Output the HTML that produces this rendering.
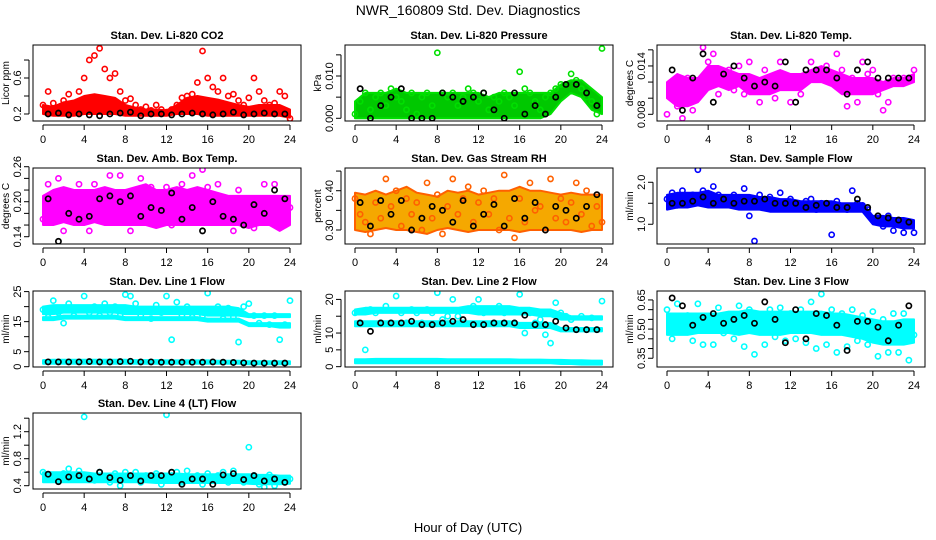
<!DOCTYPE html>
<html><head><meta charset="utf-8"><style>
html,body{margin:0;padding:0;background:#fff;}
svg{display:block;font-family:"Liberation Sans",sans-serif;}
</style></head><body>
<svg id="chart" width="936" height="540" viewBox="0 0 936 540" xmlns="http://www.w3.org/2000/svg">
<rect x="0" y="0" width="936" height="540" fill="#fff"/>
<text x="468" y="15" text-anchor="middle" font-size="14">NWR_160809  Std. Dev. Diagnostics</text>
<text x="468" y="532" text-anchor="middle" font-size="13">Hour of Day (UTC)</text>
</svg>
<script>
// ---- Data arrays (hourly band limits 0..24, half-hourly scatter 0..24, black points at 0.5..23.5) ----
const hours = [0,1,2,3,4,5,6,7,8,9,10,11,12,13,14,15,16,17,18,19,20,21,22,23,24];
const xTicks = [0,4,8,12,16,20,24];

const co2Lo = [0.2,0.18,0.18,0.18,0.2,0.2,0.2,0.2,0.18,0.18,0.18,0.18,0.18,0.2,0.2,0.2,0.18,0.18,0.18,0.18,0.18,0.18,0.18,0.18,0.16];
const co2Hi = [0.3,0.28,0.33,0.35,0.4,0.42,0.4,0.38,0.3,0.27,0.25,0.25,0.24,0.3,0.38,0.4,0.38,0.36,0.33,0.3,0.28,0.3,0.3,0.3,0.25];
const co2Pts = [0.3,0.45,0.32,0.25,0.35,0.42,0.3,0.45,0.6,0.8,0.85,0.93,0.7,0.6,0.65,0.45,0.35,0.37,0.3,0.25,0.28,0.24,0.3,0.25,0.22,0.25,0.3,0.38,0.4,0.42,0.55,0.9,0.6,0.5,0.45,0.6,0.4,0.42,0.35,0.3,0.38,0.6,0.45,0.35,0.3,0.32,0.45,0.4,0.15];
const co2Blk = [0.2,0.21,0.19,0.2,0.19,0.18,0.2,0.21,0.22,0.18,0.2,0.2,0.19,0.2,0.21,0.2,0.19,0.2,0.22,0.19,0.2,0.21,0.2,0.2];

const presLo = [0,0,0,0,0,0,0,0,0,0,0,0,0,0,0,0,0,0,0,0.001,0.004,0.006,0.005,0.002,0.001];
const presHi = [0.004,0.006,0.006,0.006,0.007,0.006,0.006,0.006,0.006,0.006,0.006,0.006,0.006,0.005,0.006,0.006,0.006,0.006,0.006,0.006,0.008,0.009,0.009,0.007,0.005];
const presPts = [0.001,0.004,0.006,0.002,0.005,0.006,0.003,0.007,0.005,0.004,0.002,0.006,0.001,0.005,0.006,0.003,0.0155,0.006,0.005,0.006,0.003,0.005,0.007,0.006,0.004,0.006,0.002,0.005,0.004,0.006,0.005,0.003,0.011,0.007,0.006,0.004,0.002,0.005,0.006,0.007,0.008,0.008,0.0105,0.009,0.007,0.005,0.004,0.001,0.0165];
const presBlk = [0.007,0,0.003,0.005,0.007,0,0,0,0.006,0.005,0.004,0.005,0.006,0.002,0,0.006,0.001,0.003,0.001,0.005,0.008,0.008,0.006,0.003];

const tempLo = [0.010,0.009,0.009,0.0095,0.011,0.0115,0.011,0.0115,0.0105,0.0105,0.0105,0.011,0.011,0.011,0.012,0.012,0.0115,0.0105,0.0105,0.0105,0.0105,0.011,0.0115,0.0115,0.012];
const tempHi = [0.012,0.013,0.0125,0.0125,0.014,0.014,0.0135,0.013,0.013,0.0125,0.013,0.0135,0.013,0.013,0.0135,0.014,0.0135,0.013,0.0125,0.0125,0.0125,0.012,0.0125,0.0125,0.013];
const tempPts = [0.008,0.0105,0.009,0.0075,0.0125,0.0085,0.011,0.0163,0.0145,0.0155,0.0105,0.013,0.0135,0.011,0.014,0.0105,0.0145,0.0115,0.0095,0.0135,0.012,0.010,0.0145,0.0125,0.0095,0.0115,0.0105,0.0125,0.0145,0.013,0.0125,0.014,0.0125,0.0155,0.0135,0.009,0.0125,0.0095,0.0145,0.013,0.0135,0.0105,0.0085,0.0095,0.0125,0.012,0.0125,0.0125,0.0135];
const tempBlk = [0.0135,0.0085,0.0125,0.0155,0.0095,0.013,0.014,0.0125,0.0115,0.012,0.0115,0.0145,0.0095,0.0135,0.0135,0.0135,0.0125,0.0105,0.0135,0.0145,0.0125,0.0125,0.0125,0.0125];

const ambLo = [0.16,0.16,0.165,0.16,0.16,0.165,0.16,0.16,0.16,0.16,0.16,0.155,0.16,0.16,0.16,0.16,0.16,0.16,0.16,0.16,0.155,0.16,0.16,0.15,0.16];
const ambHi = [0.21,0.22,0.225,0.22,0.22,0.22,0.225,0.22,0.22,0.225,0.23,0.22,0.22,0.225,0.22,0.225,0.22,0.215,0.21,0.21,0.21,0.21,0.21,0.21,0.21];
const ambPts = [0.17,0.23,0.2,0.24,0.15,0.21,0.18,0.23,0.2,0.15,0.23,0.17,0.19,0.245,0.21,0.245,0.2,0.15,0.22,0.24,0.18,0.225,0.2,0.17,0.225,0.16,0.21,0.23,0.18,0.245,0.2,0.255,0.225,0.19,0.23,0.17,0.2,0.15,0.22,0.17,0.2,0.155,0.195,0.23,0.17,0.23,0.155,0.16,0.19];
const ambBlk = [0.205,0.132,0.18,0.17,0.175,0.205,0.21,0.2,0.21,0.175,0.19,0.185,0.215,0.17,0.19,0.15,0.2,0.175,0.17,0.16,0.195,0.18,0.22,0.205];

const rhLo = [0.3,0.295,0.3,0.305,0.3,0.3,0.295,0.29,0.3,0.305,0.3,0.295,0.3,0.3,0.3,0.3,0.295,0.3,0.3,0.3,0.3,0.3,0.295,0.3,0.3];
const rhHi = [0.395,0.39,0.4,0.39,0.4,0.41,0.395,0.39,0.385,0.4,0.395,0.4,0.39,0.395,0.4,0.4,0.41,0.4,0.4,0.395,0.39,0.395,0.39,0.39,0.39];
const rhPts = [0.38,0.34,0.32,0.29,0.37,0.33,0.43,0.36,0.4,0.31,0.38,0.34,0.37,0.3,0.42,0.33,0.39,0.29,0.36,0.43,0.34,0.38,0.41,0.32,0.37,0.4,0.34,0.38,0.3,0.44,0.33,0.28,0.38,0.32,0.42,0.35,0.36,0.3,0.43,0.33,0.38,0.32,0.37,0.42,0.34,0.4,0.31,0.36,0.32];
const rhBlk = [0.37,0.31,0.375,0.34,0.375,0.3,0.33,0.36,0.35,0.32,0.375,0.31,0.34,0.365,0.31,0.38,0.33,0.37,0.3,0.36,0.35,0.33,0.36,0.39];

const sfLo = [1.35,1.4,1.4,1.45,1.4,1.4,1.4,1.35,1.35,1.35,1.3,1.3,1.3,1.3,1.3,1.3,1.3,1.3,1.3,1.3,1.0,0.95,0.95,0.9,0.9];
const sfHi = [1.7,1.75,1.75,1.75,1.8,1.7,1.7,1.7,1.7,1.65,1.65,1.6,1.6,1.55,1.55,1.55,1.55,1.5,1.5,1.5,1.2,1.2,1.15,1.15,1.1];
const sfPts = [1.6,1.75,1.45,1.8,1.65,1.7,2.3,1.8,1.55,1.9,1.7,1.5,1.6,1.7,1.55,1.85,1.2,0.6,1.7,1.55,1.65,1.45,1.75,1.5,1.6,1.45,1.4,1.55,1.6,1.35,1.5,1.45,0.75,1.55,1.4,1.35,1.8,1.5,1.45,1.35,1.1,1.15,0.95,1.2,0.85,1.1,0.8,1.0,0.8];
const sfBlk = [1.5,1.5,1.55,1.65,1.5,1.6,1.5,1.55,1.55,1.6,1.5,1.5,1.5,1.4,1.45,1.5,1.4,1.4,1.6,1.4,1.2,1.15,1.1,1.05];

const l1Lo = [17.5,17.5,18,18,18,18,18,18,17.5,17.5,17.5,17.5,17.5,17.5,17.5,17.5,17,17,17,17,16.5,16.5,16.5,16.5,16.5];
const l1Hi = [20,20.5,20.5,20.5,20.5,20.5,20.5,20.5,20.5,20,20,20,20,20,20,20,20,20,20,19.5,17.5,17.5,17.5,17.5,17.5];
const l1LowLo = [15.5,15.5,16,16,16,16,16,16,15.5,15.5,15.5,15.5,15.5,15.5,15.5,15.5,15,15,15,15,13.5,13.5,13.5,13,13];
const l1LowHi = [16.5,16.5,17,17,17,17,17,17,16.5,16.5,16.5,16.5,16.5,16.5,16.5,16.5,16,16,16,16,14.5,14.5,14.5,14.5,14.5];
const l1BaseLo = [1,1,1,1,1,1,1,1,1,1,1,1,1,1,1,1,1,1,1,1,0.8,0.8,0.8,0.8,0.8];
const l1BaseHi = [2.2,2.3,2.3,2.3,2.3,2.3,2.3,2.3,2.3,2.2,2.2,2.2,2.1,2.1,2.1,2.1,2.1,2,2,2,1.8,1.8,1.8,1.8,1.8];
const l1Pts = [19,16.5,22,18,14.5,21,17,19,23.5,18,20,17,21,18,20,17,24,23.5,21,17,19,16,20.5,18,23.5,9,21.5,17,20,16.5,19,17,24.5,18,20,16,19.5,16.5,8.2,20,21,17,14.5,17,14,17,9,14,22];
const l1Blk = [1.6,1.6,1.6,1.6,1.7,1.6,1.6,1.7,1.8,1.6,1.6,1.5,1.5,1.5,1.5,1.5,1.6,1.5,1.4,1.3,1.2,1.2,1.2,1.2];

const l2Lo = [15.5,15.5,16,16,16,16,16,16,16,16,16,16,15.5,15.5,15.5,15.5,15.5,15.5,15,15,14,14,14,14,14];
const l2Hi = [17,17.5,17.5,17.5,17.5,17.5,17.5,17.5,17.5,17.5,17.5,18,18,18,18,18,17.5,17.5,17,17,16,15,15,15,15];
const l2MidLo = [12,12,12,12,12,12,12,12,12,12,12,12,12,12,12,12,11.5,11.5,11.5,11.5,10.5,10.5,10.5,10.5,10.5];
const l2MidHi = [13.5,13.5,13.5,13.5,13.5,13.5,13.5,13.5,13.5,13.5,13.5,13.5,13.5,13.5,13.5,13.5,13,13,13,13,11.5,11.5,11.5,11.5,11.5];
const l2BaseLo = [1,1,1,1,1,1,1,1,1,1,1,1,1,1,1,1,1,1,1,1,0.8,0.8,0.6,0.6,0.6];
const l2BaseHi = [2.2,2.2,2.3,2.3,2.3,2.3,2.3,2.3,2.3,2.2,2.2,2.2,2.2,2.2,2.2,2.2,2.1,2.1,2.1,2,2,1.9,1.9,1.8,1.8];
const l2Pts = [16,13,5,17,16,13,18,13,21,16,13,17,16,13,17,16,22,14,15,20,15,13,17,18,20,16,17,13,18,16,17,13,21.5,10,16,13,14,9.5,7,19,16,15,14,11,15,11,14.5,11,19.5];
const l2Blk = [13,10.5,13,13,13,13.5,12.5,12.5,13,13.5,14,12.5,12.5,13,13,13,15.3,12.5,12.5,13.5,11.5,11,11,11];

const l3Lo = [0.47,0.47,0.47,0.48,0.48,0.48,0.48,0.47,0.48,0.47,0.47,0.47,0.48,0.48,0.48,0.47,0.47,0.47,0.46,0.45,0.43,0.42,0.42,0.42,0.43];
const l3Hi = [0.58,0.58,0.58,0.58,0.58,0.58,0.59,0.59,0.6,0.59,0.59,0.59,0.59,0.59,0.59,0.59,0.58,0.58,0.57,0.56,0.55,0.54,0.54,0.55,0.55];
const l3Pts = [0.6,0.45,0.63,0.52,0.57,0.44,0.63,0.42,0.55,0.42,0.61,0.48,0.56,0.45,0.62,0.41,0.6,0.37,0.56,0.42,0.6,0.46,0.61,0.44,0.58,0.45,0.6,0.43,0.64,0.4,0.68,0.42,0.6,0.38,0.58,0.41,0.6,0.44,0.57,0.42,0.59,0.36,0.55,0.38,0.58,0.38,0.58,0.34,0.47];
const l3Blk = [0.66,0.62,0.52,0.56,0.58,0.53,0.55,0.57,0.53,0.64,0.55,0.43,0.6,0.45,0.58,0.57,0.52,0.39,0.54,0.54,0.51,0.44,0.52,0.62];

const l4Lo = [0.45,0.45,0.45,0.45,0.45,0.45,0.45,0.45,0.45,0.45,0.45,0.44,0.44,0.44,0.44,0.44,0.44,0.44,0.44,0.44,0.43,0.42,0.42,0.42,0.43];
const l4Hi = [0.6,0.6,0.6,0.6,0.6,0.58,0.58,0.58,0.58,0.58,0.58,0.58,0.58,0.58,0.57,0.57,0.57,0.57,0.57,0.57,0.57,0.56,0.56,0.55,0.55];
const l4Pts = [0.6,0.5,0.55,0.48,0.58,0.65,0.5,0.62,1.42,0.55,0.48,0.6,0.52,0.45,0.58,0.4,0.6,0.5,0.6,0.45,0.55,0.5,0.58,0.42,1.45,0.55,0.6,0.45,0.62,0.5,0.55,0.42,0.58,0.48,0.55,0.6,0.45,0.62,0.5,0.45,0.97,0.55,0.42,0.38,0.56,0.4,0.5,0.45,0.5];
const l4Blk = [0.57,0.46,0.53,0.55,0.5,0.6,0.52,0.48,0.55,0.47,0.55,0.55,0.6,0.42,0.5,0.5,0.42,0.56,0.58,0.49,0.55,0.47,0.5,0.45];

// ---- Panel config ----
const panels = [
 {name:'co2',title:'Stan. Dev. Li-820 CO2',ylab:'Licor ppm',col:0,row:0,dom:[0.122,0.967],ticks:[0.2,0.4,0.6,0.8],labels:['0.2','','0.6',''],color:'#ff0000',band:'#ff0000',bands:[[co2Lo,co2Hi]],pts:co2Pts,blk:co2Blk},
 {name:'pressure',title:'Stan. Dev. Li-820 Pressure',ylab:'kPa',col:1,row:0,dom:[-0.00064,0.01733],ticks:[0,0.005,0.01,0.015],labels:['0.000','','0.010',''],color:'#00e000',band:'#00c800',bands:[[presLo,presHi]],pts:presPts,blk:presBlk},
 {name:'li820-temp',title:'Stan. Dev. Li-820 Temp.',ylab:'degrees C',col:2,row:0,dom:[0.00717,0.0166],ticks:[0.008,0.010,0.012,0.014,0.016],labels:['0.008','','','0.014',''],color:'#ff00ff',band:'#ff00ff',bands:[[tempLo,tempHi]],pts:tempPts,blk:tempBlk},
 {name:'amb-box-temp',title:'Stan. Dev. Amb. Box Temp.',ylab:'degrees C',col:0,row:1,dom:[0.1275,0.2578],ticks:[0.14,0.16,0.18,0.2,0.22,0.24,0.26],labels:['0.14','','','0.20','','','0.26'],color:'#ff00ff',band:'#ff00ff',bands:[[ambLo,ambHi]],pts:ambPts,blk:ambBlk},
 {name:'gas-stream-rh',title:'Stan. Dev. Gas Stream RH',ylab:'percent',col:1,row:1,dom:[0.2644,0.4578],ticks:[0.3,0.35,0.4,0.45],labels:['0.30','','0.40',''],color:'#ff6000',band:'#f5a800',bands:[[rhLo,rhHi]],pts:rhPts,blk:rhBlk},
 {name:'sample-flow',title:'Stan. Dev. Sample Flow',ylab:'ml/min',col:2,row:1,dom:[0.53,2.34],ticks:[1.0,1.5,2.0],labels:['1.0','','2.0'],color:'#0000ff',band:'#0000ff',bands:[[sfLo,sfHi]],pts:sfPts,blk:sfBlk},
 {name:'line1-flow',title:'Stan. Dev. Line 1 Flow',ylab:'ml/min',col:0,row:2,dom:[-0.1,25.2],ticks:[0,5,10,15,20,25],labels:['0','5','','15','','25'],color:'#00ffff',band:'#00ffff',bands:[[l1Lo,l1Hi],[l1LowLo,l1LowHi],[l1BaseLo,l1BaseHi]],pts:l1Pts,blk:l1Blk},
 {name:'line2-flow',title:'Stan. Dev. Line 2 Flow',ylab:'ml/min',col:1,row:2,dom:[-0.1,22.5],ticks:[0,5,10,15,20],labels:['0','5','10','','20'],color:'#00ffff',band:'#00ffff',bands:[[l2Lo,l2Hi],[l2MidLo,l2MidHi],[l2BaseLo,l2BaseHi]],pts:l2Pts,blk:l2Blk},
 {name:'line3-flow',title:'Stan. Dev. Line 3 Flow',ylab:'ml/min',col:2,row:2,dom:[0.305,0.696],ticks:[0.35,0.4,0.45,0.5,0.55,0.6,0.65],labels:['0.35','','','0.50','','','0.65'],color:'#00ffff',band:'#00ffff',bands:[[l3Lo,l3Hi]],pts:l3Pts,blk:l3Blk},
 {name:'line4-flow',title:'Stan. Dev. Line 4 (LT) Flow',ylab:'ml/min',col:0,row:3,dom:[0.351,1.477],ticks:[0.4,0.6,0.8,1.0,1.2,1.4],labels:['0.4','','0.8','','1.2',''],color:'#00ffff',band:'#00ffff',bands:[[l4Lo,l4Hi]],pts:l4Pts,blk:l4Blk}
];

const NS = 'http://www.w3.org/2000/svg';
const svg = document.getElementById('chart');
const colLeft = [33,345,657], rowTop = [45,168,291,413], BW = 268, BH = 76;
function mk(tag, attrs, parent){const e=document.createElementNS(NS,tag);for(const k in attrs)e.setAttribute(k,attrs[k]);(parent||svg).appendChild(e);return e;}

panels.forEach(p=>{
  const L=colLeft[p.col], T=rowTop[p.row];
  const xS = h => L + 10 + h*(247/24);
  const yS = v => T + BH - (v - p.dom[0])/(p.dom[1]-p.dom[0])*BH;
  const g = mk('g',{});
  
  
  const cid='clip-'+p.name;
  const cp=mk('clipPath',{id:cid},g); mk('rect',{x:L,y:T,width:BW,height:BH},cp);
  const data=mk('g',{'clip-path':'url(#'+cid+')'},g);
  p.bands.forEach((b,bi)=>{
    let d='';
    hours.forEach((h,i)=>{d+=(i?'L':'M')+xS(h).toFixed(1)+','+yS(b[1][i]).toFixed(1);});
    for(let i=hours.length-1;i>=0;i--) d+='L'+xS(hours[i]).toFixed(1)+','+yS(b[0][i]).toFixed(1);
    d+='Z';
    const band=mk('path',{d:d,fill:p.band,stroke:p.color,'stroke-width':2,'stroke-linejoin':'round'},data);
    
    
  });
  p.pts.forEach((v,i)=>{
    const c=mk('circle',{cx:xS(i*0.5),cy:yS(v),r:2.6,fill:'none',stroke:p.color,'stroke-width':1.6},data);
    
    
  });
  p.blk.forEach((v,i)=>{
    const c=mk('circle',{cx:xS(i+0.5),cy:yS(v),r:2.6,fill:'none',stroke:'#000','stroke-width':1.7},data);
    
    
  });
  mk('rect',{x:L,y:T,width:BW,height:BH,fill:'none',stroke:'#000','stroke-width':1},g);
  const t=mk('text',{x:L+BW/2,y:T-6,'text-anchor':'middle','font-size':11,'font-weight':'bold'},g);
  t.textContent=p.title;
  
  
  mk('line',{x1:xS(0),x2:xS(24),y1:T+BH+4,y2:T+BH+4,stroke:'#000'},g);
  xTicks.forEach(h=>{
    mk('line',{x1:xS(h),x2:xS(h),y1:T+BH+4,y2:T+BH+9,stroke:'#000'},g);
    const lt=mk('text',{x:xS(h),y:T+BH+22,'text-anchor':'middle','font-size':11},g);
    lt.textContent=h;
    
    
  });
  mk('circle',{cx:xS(12)+3,cy:T+BH+17,r:0.6,fill:'#000'},g);
  mk('line',{x1:L-4,x2:L-4,y1:yS(p.ticks[0]),y2:yS(p.ticks[p.ticks.length-1]),stroke:'#000'},g);
  p.ticks.forEach((v,i)=>{
    const y=yS(v);
    mk('line',{x1:L-9,x2:L-4,y1:y,y2:y,stroke:'#000'},g);
    if(p.labels[i]){
      const yt=mk('text',{x:L-12,y:y,'text-anchor':'middle','font-size':11,transform:'rotate(-90 '+(L-12)+' '+y+')'},g);
      yt.textContent=p.labels[i];
      
      
    }
  });
  const yl=mk('text',{x:L-24,y:T+BH/2,'text-anchor':'middle','font-size':10,transform:'rotate(-90 '+(L-24)+' '+(T+BH/2)+')'},g);
  yl.textContent=p.ylab;
  
  
});
</script>
</body></html>
